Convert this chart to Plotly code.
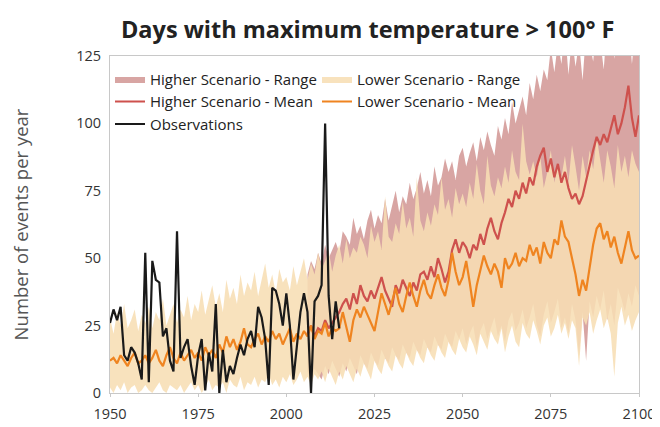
import plotly.graph_objects as go

# ---------------- data ----------------
years_all = list(range(1950, 2101))
years_obs = list(range(1950, 2016))
years_hi = list(range(2006, 2101))

observations = [26, 31, 27, 32, 14, 12, 17, 15, 11, 5,
                52, 4, 49, 42, 41, 21, 24, 12, 8, 60,
                13, 17, 20, 10, 3, 14, 20, 1, 15, 8,
                33, 0, 16, 4, 10, 7, 13, 18, 14, 20,
                23, 17, 32, 28, 20, 3, 39, 38, 33, 25,
                37, 25, 5, 18, 30, 37, 30, 0, 34, 36,
                40, 100, 36, 20, 34, 24]

lower_mean = [12, 13, 11, 14, 12, 10, 13, 15, 11, 12,
              14, 11, 13, 16, 12, 10, 14, 17, 13, 11,
              15, 12, 14, 16, 13, 15, 12, 17, 14, 16,
              13, 18, 15, 21, 17, 20, 16, 19, 24, 18,
              17, 20, 22, 18, 21, 19, 23, 20, 22, 18,
              21, 24, 19, 22, 20, 23, 21, 25, 20, 23,
              22, 26, 21, 24, 23, 24, 30, 25, 19, 27,
              31, 28, 32, 29, 26, 23, 30, 37, 33, 29,
              34, 39, 33, 30, 36, 41, 36, 32, 38, 42,
              37, 35, 40, 44, 39, 36, 42, 52, 45, 40,
              43, 49, 41, 32, 40, 46, 51, 47, 44, 48,
              45, 39, 50, 46, 48, 52, 47, 50, 49, 55,
              51, 54, 48, 56, 52, 50, 57, 55, 64, 58,
              56, 50, 44, 36, 42, 38, 46, 55, 61, 63,
              57, 60, 54, 58, 52, 48, 54, 60, 53, 50,
              51]

lower_low = [2, 0, 3, 1, 4, 0, 2, 3, 0, 1,
             3, 1, 0, 2, 4, 1, 0, 3, 2, 1,
             3, 0, 2, 4, 1, 3, 0, 2, 5, 1,
             3, 2, 4, 0, 5, 3, 2, 6, 1, 4,
             3, 6, 2, 5, 4, 7, 3, 5, 2, 6,
             4, 7, 3, 5, 8, 4, 6, 3, 7, 5,
             8, 4, 9, 6, 3, 8, 5, 10, 7, 4,
             9, 6, 11, 8, 5, 12, 9, 7, 13, 10,
             8, 14, 11, 9, 15, 12, 10, 16, 13, 11,
             17, 14, 12, 18, 15, 13, 19, 16, 14, 20,
             17, 15, 21, 18, 14, 22, 19, 16, 23, 20,
             18, 24, 15, 21, 25, 19, 17, 26, 22, 20,
             27, 23, 18, 25, 28, 21, 24, 29, 22, 26,
             20, 27, 24, 10, 28, 25, 30, 22, 27, 31,
             24, 28, 22, 6, 26, 32, 25, 29, 23, 27,
             30]

lower_high = [28, 22, 30, 25, 33, 24, 27, 31, 23, 29,
              26, 32, 24, 30, 27, 35, 25, 29, 33, 26,
              31, 28, 36, 27, 33, 30, 38, 29, 34, 40,
              32, 37, 30, 42, 35, 39, 33, 44, 36, 41,
              38, 45, 36, 42, 48, 39, 44, 37, 46, 41,
              43, 38, 47, 40, 45, 50, 42, 48, 44, 52,
              46, 49, 53, 45, 51, 55, 48, 57, 50, 54,
              52, 58, 55, 50, 62, 56, 60, 53, 73, 58,
              56, 63, 59, 71, 61, 65, 58, 80, 64, 60,
              67, 62, 70, 66, 80, 68, 72, 65, 76, 70,
              74, 69, 78, 72, 85, 75, 70, 88, 77, 73,
              80, 76, 84, 78, 90, 82, 79, 100, 86, 81,
              86, 80, 88, 76, 82, 90, 78, 85, 80, 88,
              78, 92, 84, 75, 88, 80, 90, 83, 95, 86,
              78, 90, 84, 76, 92, 82, 88, 80, 90, 85,
              82]

higher_mean = [22, 25, 21, 24, 23, 27, 24, 26, 28, 30,
               33, 35, 31, 37, 33, 40, 36, 34, 38, 35,
               39, 43, 38, 35, 32, 40, 37, 42, 39, 36,
               41, 38, 44, 45, 42, 47, 43, 50, 46, 41,
               45, 53, 57, 52, 56, 54, 50, 55, 53, 59,
               55, 61, 65, 60, 57, 63, 67, 72, 69, 75,
               72, 78, 74, 80, 77, 84, 88, 91, 82, 87,
               80, 85, 78, 82, 76, 72, 74, 70, 73, 79,
               84, 90, 95, 92, 96, 93, 98, 103, 96, 100,
               106, 114, 102, 95, 103]

higher_low = [8, 5, 9, 7, 5, 10, 7, 12, 9, 6,
              11, 8, 13, 10, 7, 14, 11, 9, 15, 12,
              10, 16, 13, 11, 17, 14, 12, 18, 15, 13,
              19, 16, 14, 20, 17, 15, 21, 18, 16, 22,
              19, 17, 23, 20, 24, 18, 22, 25, 17, 23,
              26, 20, 24, 28, 21, 25, 19, 27, 30, 23,
              26, 31, 24, 28, 33, 25, 21, 29, 34, 26,
              30, 35, 24, 28, 22, 33, 27, 14, 30, 12,
              34, 28, 36, 31, 38, 27, 33, 25, 39, 35,
              30, 37, 32, 40, 36]

higher_high = [44, 49, 46, 52, 48, 55, 50, 53, 56, 52,
               60, 58, 55, 65, 59, 62, 57, 64, 68, 61,
               66, 63, 72, 64, 69, 75, 67, 73, 70, 78,
               72, 76, 82, 74, 79, 73, 84, 77, 80, 87,
               82, 86, 79, 88, 91, 84, 89, 93, 86, 95,
               90, 97, 92, 88, 99, 94, 102, 96, 108, 100,
               105, 110, 103, 115, 109, 118, 112, 120, 116, 128,
               119, 130, 122, 135, 118, 132, 121, 130, 116, 134,
               130, 123, 136, 131, 120, 138, 133, 124, 140, 135,
               132, 138, 122, 136, 131]

x_ticks = [1950, 1975, 2000, 2025, 2050, 2075, 2100]
y_ticks = [0, 25, 50, 75, 100, 125]

# ---------------- styles ----------------
PINK = "rgba(214,160,158,0.95)"
TAN = "rgba(247,222,180,0.88)"
RED = "#CE514D"
ORANGE = "#EF8420"

fig = go.Figure()

fig.add_trace(go.Scatter(x=years_hi, y=higher_low, mode="lines",
                         line=dict(width=0, color=PINK), showlegend=False,
                         hoverinfo="skip"))
fig.add_trace(go.Scatter(x=years_hi, y=higher_high, mode="lines",
                         line=dict(width=0, color=PINK), fill="tonexty",
                         fillcolor=PINK, name="Higher Scenario - Range",
                         legendrank=1))
fig.add_trace(go.Scatter(x=years_all, y=lower_low, mode="lines",
                         line=dict(width=0, color=TAN), showlegend=False,
                         hoverinfo="skip"))
fig.add_trace(go.Scatter(x=years_all, y=lower_high, mode="lines",
                         line=dict(width=0, color=TAN), fill="tonexty",
                         fillcolor=TAN, name="Lower Scenario - Range",
                         legendrank=2))
fig.add_trace(go.Scatter(x=years_hi, y=higher_mean, mode="lines",
                         line=dict(width=2.2, color=RED),
                         name="Higher Scenario - Mean", legendrank=3))
fig.add_trace(go.Scatter(x=years_all, y=lower_mean, mode="lines",
                         line=dict(width=2.2, color=ORANGE),
                         name="Lower Scenario - Mean", legendrank=4))
fig.add_trace(go.Scatter(x=years_obs, y=observations, mode="lines",
                         line=dict(width=2.2, color="#1a1a1a"),
                         name="Observations", legendrank=5))

fig.update_layout(
    width=660, height=427,
    margin=dict(l=102, r=20, t=48, b=39),
    paper_bgcolor="white", plot_bgcolor="white",
    font=dict(family="Open Sans, Lato, sans-serif", color="#333333", size=14),
    title=dict(text="<b>Days with maximum temperature > 100° F</b>",
               x=0.545, xanchor="center", y=0.95, yanchor="middle",
               font=dict(size=23.5, color="#222222")),
    legend=dict(orientation="h", x=0, y=0.98,
                xanchor="left", yanchor="top",
                traceorder="normal",
                bgcolor="rgba(0,0,0,0)", entrywidth=162,
                font=dict(size=15, color="#222222"),
                tracegroupgap=0, itemwidth=30),
    showlegend=True,
)

fig.update_xaxes(range=[1950, 2100], tickvals=x_ticks,
                 ticktext=[str(v) for v in x_ticks],
                 showgrid=False, zeroline=False, showline=True,
                 linecolor="#C8C8C8", linewidth=1, mirror=True,
                 ticks="outside", ticklen=3, tickcolor="#C8C8C8",
                 ticklabelstandoff=5,
                 tickfont=dict(size=14.5, color="#333333"))
fig.update_yaxes(range=[0, 125], tickvals=y_ticks,
                 showgrid=False, zeroline=False, showline=True,
                 linecolor="#C8C8C8", linewidth=1, mirror=True,
                 ticks="", ticklabelstandoff=5,
                 tickfont=dict(size=14.5, color="#333333"),
                 title=dict(text="Number of events per year",
                            font=dict(size=18.5, color="#555555"), standoff=42))

fig.write_html("out.html")
